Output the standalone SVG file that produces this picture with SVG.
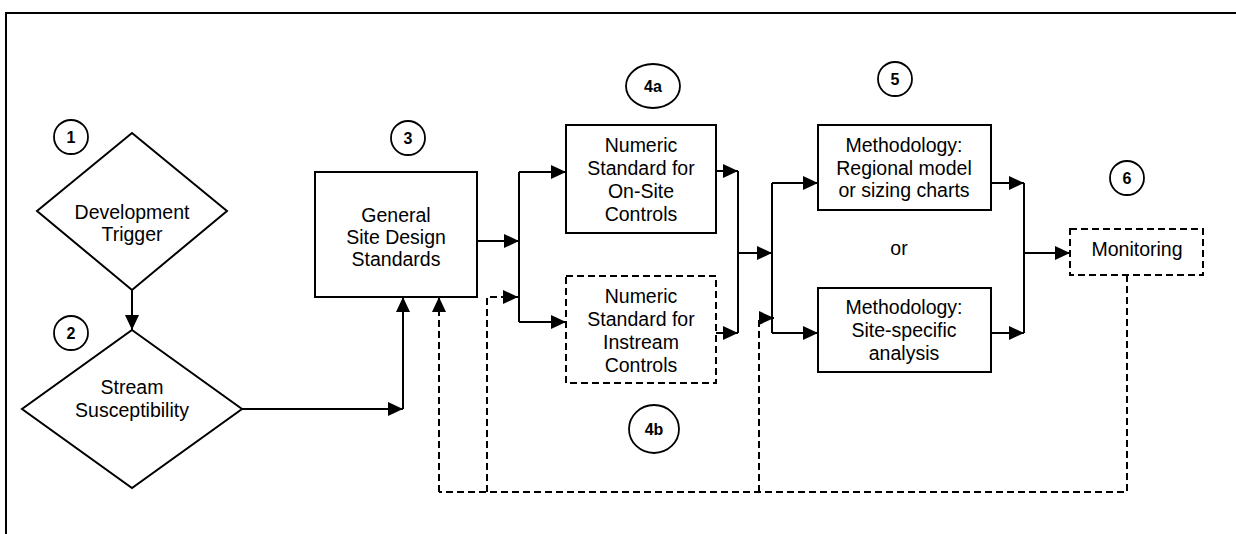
<svg xmlns="http://www.w3.org/2000/svg" width="1236" height="534" viewBox="0 0 1236 534">
  <style>
    .shape { fill: #fff; stroke: #000; stroke-width: 2; }
    .dashed { stroke-dasharray: 7 4; }
    .label { font-family: "Liberation Sans", Arial, sans-serif; font-size: 19.5px; fill: #000; text-anchor: middle; }
    .num { font-family: "Liberation Sans", Arial, sans-serif; font-size: 16px; font-weight: bold; fill: #000; text-anchor: middle; }
    .tag { fill: #fff; stroke: #000; stroke-width: 1.8; }
    .wire { fill: none; stroke: #000; stroke-width: 2; }
  </style>
  <defs>
    <marker id="arrow" markerUnits="userSpaceOnUse" markerWidth="15" markerHeight="14" refX="15" refY="7" orient="auto">
      <path d="M0,0 L15,7 L0,14 Z" fill="#000" stroke="none"/>
    </marker>
  </defs>

  <rect width="1236" height="534" fill="#fff"/>
  <!-- outer frame -->
  <path d="M6,540 V13 H1240" fill="none" stroke="#000" stroke-width="2"/>

  <g id="step1">
    <ellipse class="tag" cx="71" cy="137" rx="17" ry="17"/>
    <text class="num" x="71" y="143">1</text>
    <polygon class="shape" points="132,133 227,211 132,290 37,211"/>
    <text class="label" x="132" y="219">Development</text>
    <text class="label" x="132" y="241">Trigger</text>
  </g>

  <g id="step2">
    <ellipse class="tag" cx="71" cy="333" rx="17" ry="17"/>
    <text class="num" x="71" y="339">2</text>
    <polygon class="shape" points="132,330 242,409 132,488 22,409"/>
    <text class="label" x="132" y="394">Stream</text>
    <text class="label" x="132" y="417">Susceptibility</text>
  </g>

  <g id="step3">
    <ellipse class="tag" cx="408" cy="138" rx="17" ry="17"/>
    <text class="num" x="408" y="144">3</text>
    <rect class="shape" x="315" y="172" width="162" height="125"/>
    <text class="label" x="396" y="222">General</text>
    <text class="label" x="396" y="244">Site Design</text>
    <text class="label" x="396" y="266">Standards</text>
  </g>

  <g id="step4a">
    <ellipse class="tag" cx="653" cy="86" rx="27" ry="22"/>
    <text class="num" x="653" y="92">4a</text>
    <rect class="shape" x="566" y="125" width="150" height="108"/>
    <text class="label" x="641" y="152">Numeric</text>
    <text class="label" x="641" y="175">Standard for</text>
    <text class="label" x="641" y="198">On-Site</text>
    <text class="label" x="641" y="221">Controls</text>
  </g>

  <g id="step4b">
    <ellipse class="tag" cx="654" cy="429" rx="25" ry="24"/>
    <text class="num" x="654" y="435">4b</text>
    <rect class="shape dashed" x="566" y="276" width="150" height="107"/>
    <text class="label" x="641" y="303">Numeric</text>
    <text class="label" x="641" y="326">Standard for</text>
    <text class="label" x="641" y="349">Instream</text>
    <text class="label" x="641" y="372">Controls</text>
  </g>

  <g id="step5">
    <ellipse class="tag" cx="895" cy="79" rx="17" ry="17"/>
    <text class="num" x="895" y="85">5</text>
    <text class="label" x="899" y="255">or</text>
  </g>

  <g id="step5a">
    <rect class="shape" x="818" y="125" width="173" height="85"/>
    <text class="label" x="904" y="152">Methodology:</text>
    <text class="label" x="904" y="175">Regional model</text>
    <text class="label" x="904" y="197">or sizing charts</text>
  </g>

  <g id="step5b">
    <rect class="shape" x="818" y="288" width="173" height="84"/>
    <text class="label" x="904" y="314">Methodology:</text>
    <text class="label" x="904" y="337">Site-specific</text>
    <text class="label" x="904" y="360">analysis</text>
  </g>

  <g id="step6">
    <ellipse class="tag" cx="1127" cy="178" rx="17" ry="17"/>
    <text class="num" x="1127" y="184">6</text>
    <rect class="shape dashed" x="1070" y="229" width="133" height="46"/>
    <text class="label" x="1137" y="256">Monitoring</text>
  </g>

  <g id="connectors">
    <!-- main flow -->
    <path class="wire" d="M132,290 V330" marker-end="url(#arrow)"/>
    <path class="wire" d="M242,409 H403" marker-end="url(#arrow)"/>
    <path class="wire" d="M403,409 V297" marker-end="url(#arrow)"/>
    <path class="wire" d="M477,241 H519" marker-end="url(#arrow)"/>
    <path class="wire" d="M519,172 V322"/>
    <path class="wire" d="M519,172 H566" marker-end="url(#arrow)"/>
    <path class="wire" d="M519,322 H566" marker-end="url(#arrow)"/>
    <path class="wire" d="M716,171 H738" marker-end="url(#arrow)"/>
    <path class="wire" d="M716,333 H738" marker-end="url(#arrow)"/>
    <path class="wire" d="M738,171 V333"/>
    <path class="wire" d="M738,253 H772" marker-end="url(#arrow)"/>
    <path class="wire" d="M772,183 V333"/>
    <path class="wire" d="M772,183 H818" marker-end="url(#arrow)"/>
    <path class="wire" d="M772,333 H818" marker-end="url(#arrow)"/>
    <path class="wire" d="M991,183 H1024" marker-end="url(#arrow)"/>
    <path class="wire" d="M991,333 H1024" marker-end="url(#arrow)"/>
    <path class="wire" d="M1024,183 V333"/>
    <path class="wire" d="M1024,253 H1070" marker-end="url(#arrow)"/>
    <!-- monitoring feedback loop -->
    <path class="wire dashed" d="M1127,275 V492 H439"/>
    <path class="wire dashed" d="M439,492 V297" marker-end="url(#arrow)"/>
    <path class="wire dashed" d="M487,492 V297 H518" marker-end="url(#arrow)"/>
    <path class="wire dashed" d="M759,492 V318 H774" marker-end="url(#arrow)"/>
  </g>
</svg>
